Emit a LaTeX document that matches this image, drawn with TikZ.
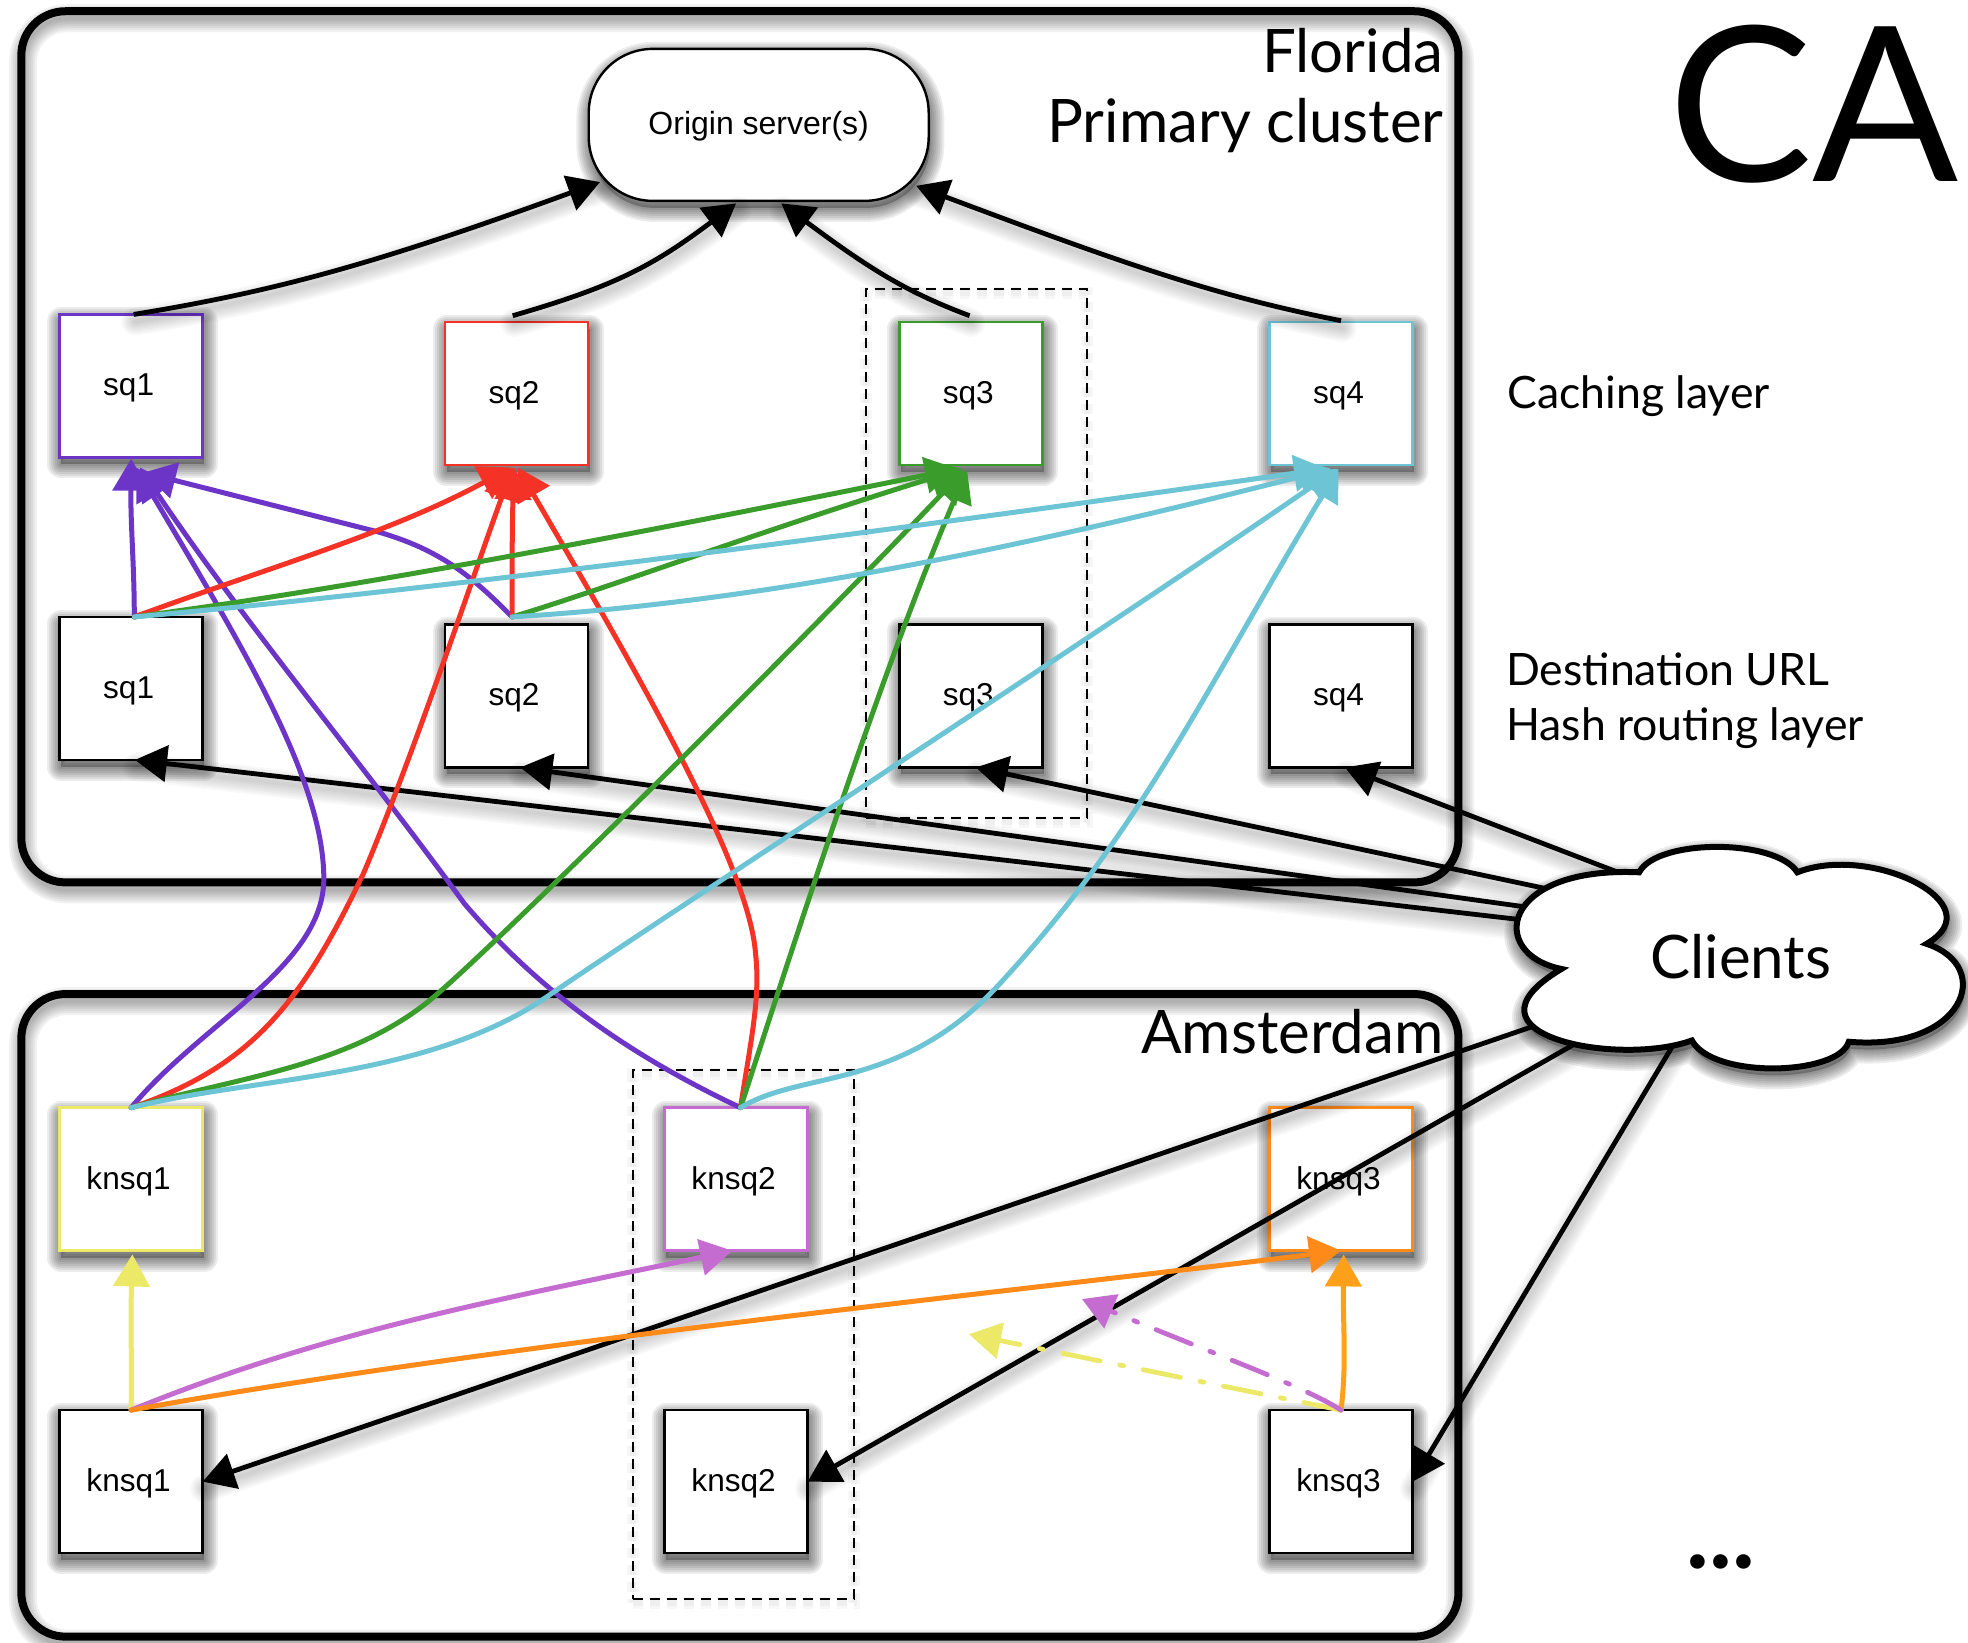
\documentclass[tikz,border=0pt]{standalone}
\usepackage{fontspec}
\setmainfont{Liberation Sans}
\newfontfamily\gill{Lato}
\usetikzlibrary{arrows.meta,calc}
\definecolor{cpurple}{HTML}{6C35C8}
\definecolor{cred}{HTML}{F43326}
\definecolor{cgreen}{HTML}{3A9C2B}
\definecolor{ccyan}{HTML}{6CC4D4}
\definecolor{cyellow}{HTML}{ECE868}
\definecolor{cviolet}{HTML}{C46CD0}
\definecolor{corange}{HTML}{FE8A1A}
\definecolor{camber}{HTML}{FFA01A}
\tikzset{
  shadlay/.style n args={3}{preaction={draw=black,fill=black,draw opacity=#2,fill opacity=#3,line width=#1,solid,arrows=-,line cap=round,line join=round,transform canvas={xshift=.8pt,yshift=-3.5pt}}},
  shadset/.style 2 args={shadlay={14pt}{#1}{0},shadlay={12pt}{#1}{0},shadlay={10pt}{#1}{0},shadlay={8pt}{#1}{0},shadlay={6pt}{#1}{0},shadlay={4pt}{#1}{0},shadlay={2pt}{#1}{#2}},
  softbox/.style={shadset={.075}{.25}},
  softline/.style={shadset={.028}{0}},
  softframe/.style={shadset={.05}{0}},
  frame/.style={draw=black,line width=4pt,rounded corners=22pt,inner sep=0,outer sep=0,softframe},
  dashbox/.style={draw=black,dashed,dash pattern=on 5pt off 3.5pt,line width=1pt,inner sep=0,outer sep=0,minimum width=110.5pt,minimum height=264.5pt,preaction={draw=black,draw opacity=.03,line width=6pt,transform canvas={yshift=-2pt}},preaction={draw=black,draw opacity=.03,line width=3pt,transform canvas={yshift=-2pt}}},
  srv/.style={draw=#1,fill=white,line width=1.2pt,minimum width=71.5pt,minimum height=71.5pt,inner sep=0,outer sep=0,text height=14pt,text depth=4pt,font=\fontsize{15.8}{18}\selectfont,execute at begin node={\kern-2.5pt},softbox},
  origin/.style={draw=black,fill=white,line width=1.2pt,minimum width=170pt,minimum height=76pt,rounded corners=32pt,inner sep=0,outer sep=0,text height=14pt,text depth=4pt,font=\fontsize{16}{18}\selectfont,softbox},
  gilltext/.style={inner sep=0,outer sep=0,font=\gill\fontsize{#1}{#1}\selectfont},
  conn/.style={draw=#1,line width=2.5pt,-{Triangle[length=16pt,width=18pt]},line cap=round},
  blackconn/.style={draw=black,line width=2.4pt,softline,-{Triangle[length=16pt,width=18pt]}},
  dashconn/.style={draw=#1,line width=2.4pt,-{Triangle[length=16pt,width=18pt]},line cap=round,dash pattern=on 19pt off 10pt on 2pt off 10pt},
}
\begin{document}
\begin{tikzpicture}[x=.6276pt,y=-.6276pt]
\useasboundingbox (0,0) rectangle (1568,1309);
% frames
\node[frame,minimum width=718.6pt,minimum height=435.6pt] (fl) at (589.5,356) {};
\node[frame,minimum width=718.6pt,minimum height=321.3pt] (am) at (589.5,1048) {};
% dashed
\node[dashbox] (d1) at (778,441) {};
\node[dashbox] (d2) at (592,1063.5) {};
% origin
\node[origin] (o) at (604.5,99.5) {Origin server(s)};
% nodes
\node[srv=cpurple] (t1) at (104.5,307.5) {sq1};
\node[srv=cred] (t2) at (411.5,313.5) {sq2};
\node[srv=cgreen] (t3) at (773.5,313.5) {sq3};
\node[srv=ccyan] (t4) at (1068.5,313.5) {sq4};
\node[srv=black] (s1) at (104.5,548.5) {sq1};
\node[srv=black] (s2) at (411.5,554.5) {sq2};
\node[srv=black] (s3) at (773.5,554.5) {sq3};
\node[srv=black] (s4) at (1068.5,554.5) {sq4};
\node[srv=cyellow] (k1) at (104.5,939.5) {knsq1};
\node[srv=cviolet] (k2) at (586.5,939.5) {knsq2};
\node[srv=corange] (k3) at (1068.5,939.5) {knsq3};
\node[srv=black] (b1) at (104.5,1180.5) {knsq1};
\node[srv=black] (b2) at (586.5,1180.5) {knsq2};
\node[srv=black] (b3) at (1068.5,1180.5) {knsq3};
% named ends
\coordinate (cl) at (1387,762);
\coordinate (s1o) at ($(s1.north)+(2.5,0)$);
\coordinate (s2o) at ($(s2.north)+(-3.5,-6)$);
\coordinate (k1o) at ($(k1.north)+(0,0)$);
\coordinate (k2o) at ($(k2.north)+(3.5,0)$);
\coordinate (b1o) at ($(b1.north)+(0,0)$);
\coordinate (b3o) at ($(b3.north)+(0,0)$);
% black, top
\draw[blackconn] ($(t1.north)+(2,0)$) .. controls (220,232) and (300,210) .. ($(o.south west)+(9,-15)$);
\draw[blackconn] ($(t2.north)+(-3,-5)$) .. controls (490,228) and (520,212) .. ($(o.south)+(-18,2)$);
\draw[blackconn] ($(t3.north)+(-1,-5)$) .. controls (720,232) and (690,212) .. ($(o.south)+(18,2)$);
\draw[blackconn] ($(t4.north)+(0,-1)$) .. controls (970,236) and (900,212) .. ($(o.south east)+(-10,-12)$);
% black, clients
\draw[blackconn] ($(cl)+(-147,-26)$) -- ($(s1.south)+(3,0)$);
\draw[blackconn] ($(cl)+(-147,-36)$) -- ($(s2.south)+(3,0)$);
\draw[blackconn] ($(cl)+(-127,-48)$) -- ($(s3.south)+(4,0)$);
\draw[blackconn] ($(cl)+(-77,-59)$) -- ($(s4.south)+(3,0)$);
\draw[blackconn] ($(cl)+(-137,46)$) -- (b1.east);
\draw[blackconn] ($(cl)+(-117,61)$) -- (b2.east);
\draw[blackconn] ($(cl)+(-47,59)$) -- (b3.east);
% purple
\draw[conn=cpurple] (s1o) .. controls (107,450) and (104,420) .. ($(t1.south)+(0,1)$);
\draw[conn=cpurple] (s2o) .. controls (375,458) and (350,438) .. (302,424) -- ($(t1.south)+(10,12)$);
\draw[conn=cpurple] (k1o) .. controls (160,815) and (258,770) .. (258,700) .. controls (258,620) and (190,510) .. ($(t1.south)+(4,8)$);
\draw[conn=cpurple] (k2o) .. controls (500,840) and (430,790) .. (370,720) .. controls (290,610) and (190,490) .. ($(t1.south)+(7,8)$);
% red
\draw[conn=cred] (s1o) .. controls (220,450) and (310,425) .. ($(t2.south)+(-4,2)$);
\draw[conn=cred] (s2o) .. controls (408,450) and (408,420) .. ($(t2.south)+(-2,2)$);
\draw[conn=cred] (k1o) .. controls (200,850) and (240,800) .. (290,695) .. controls (330,600) and (380,450) .. ($(t2.south)+(-3,2)$);
\draw[conn=cred] (k2o) .. controls (598,830) and (606,795) .. (602,760) .. controls (597,690) and (510,540) .. ($(t2.south)+(1,2)$);
% green
\draw[conn=cgreen] (s1o) .. controls (250,472) and (400,447) .. ($(t3.south)+(-11,3)$);
\draw[conn=cgreen] (s2o) .. controls (480,470) and (600,425) .. ($(t3.south)+(-7,3)$);
\draw[conn=cgreen] (k1o) .. controls (190,858) and (280,850) .. (346,794) .. controls (400,748) and (640,510) .. ($(t3.south)+(-5,4)$);
\draw[conn=cgreen] (k2o) .. controls (630,760) and (700,540) .. ($(t3.south)+(-3,4)$);
% cyan
\draw[conn=ccyan] (s1o) .. controls (400,465) and (800,410) .. ($(t4.south)+(-12,3)$);
\draw[conn=ccyan] (s2o) .. controls (600,480) and (800,440) .. ($(t4.south)+(-8,3)$);
\draw[conn=ccyan] (k1o) .. controls (200,858) and (340,860) .. (436,794) .. controls (520,736) and (905,485) .. ($(t4.south)+(-3,3)$);
\draw[conn=ccyan] (k2o) .. controls (640,852) and (720,870) .. (800,780) .. controls (910,660) and (960,550) .. ($(t4.south)+(-2,3)$);
% Amsterdam colours
\draw[conn=cyellow] (b1o) .. controls (105,1080) and (104,1050) .. ($(k1.south)+(1,3)$);
\draw[conn=cviolet] (b1o) .. controls (260,1060) and (400,1035) .. ($(k2.south)+(-3,0)$);
\draw[conn=corange] (b1o) .. controls (400,1070) and (800,1030) .. ($(k3.south)+(0,0)$);
\draw[conn=camber] (b3o) .. controls (1073,1085) and (1070,1060) .. ($(k3.south)+(2,3)$);
\coordinate (ye) at (772,1063);
\coordinate (ve) at (862,1035);
\draw[dashconn=cyellow] (b3o) -- (ye);
\draw[dashconn=cviolet] (b3o) .. controls (1040,1105) and (970,1080) .. (ve);
% cloud
\path[draw=black,fill=white,line width=3pt,line join=miter,softbox]
  (1306,695) .. controls (1320,668) and (1415,668) .. (1432,695)
  .. controls (1490,672) and (1590,720) .. (1535,752)
  .. controls (1590,770) and (1565,838) .. (1473,830)
  .. controls (1465,857) and (1365,860) .. (1348,829)
  .. controls (1290,850) and (1155,825) .. (1244,772)
  .. controls (1185,760) and (1195,690) .. cycle;
\node[gilltext=30] (clients) at (cl) {Clients};
% texts
\node[gilltext=30,anchor=east] (tf) at (1150,40) {Florida};
\node[gilltext=30,anchor=east] (tp) at (1150,100) {Primary cluster};
\node[gilltext=30,anchor=east] (ta) at (1150,822) {Amsterdam};
\node[gilltext=108,anchor=center] (tca) at (1445,83) {CA};
\node[gilltext=22.3,anchor=west] (tc) at (1201,316) {Caching layer};
\node[gilltext=22.3,anchor=west] (tu) at (1200,533) {Destination URL};
\node[gilltext=22.3,anchor=west] (th) at (1200,580) {Hash routing layer};
\node[inner sep=0,anchor=base,font=\gill\bfseries\fontsize{48}{48}\selectfont] (dots) at (1371,1250) {...};
\end{tikzpicture}
\end{document}
